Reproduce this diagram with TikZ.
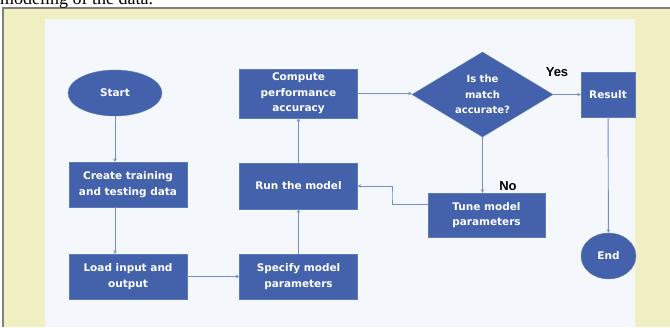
\documentclass[tikz,border=0pt]{standalone}
\usepackage{fontspec}
\setmainfont{Liberation Serif}
\newfontfamily\boxfont{DejaVu Sans}
\newfontfamily\labelfont{Liberation Sans}
\usepackage{xcolor}
\usetikzlibrary{positioning,arrows.meta,shapes.geometric}

\definecolor{boxblue}{RGB}{68,98,172}
\definecolor{linkblue}{RGB}{118,142,200}
\definecolor{panelbg}{RGB}{244,247,252}
\definecolor{framebg}{RGB}{239,239,194}

\begin{document}
\begin{tikzpicture}[
  x=1pt, y=-1pt,
  >={Stealth[length=3.5pt,width=3.5pt]},
  box/.style={draw=boxblue!85, fill=boxblue, text=white, align=center, inner sep=1pt,
    font=\boxfont\bfseries\fontsize{10.5}{15.5}\selectfont},
  proc/.style={box, minimum width=118pt, minimum height=45pt},
  term/.style={box, ellipse, inner sep=0pt},
  decide/.style={box, diamond, aspect=1.66, inner sep=0pt, minimum width=141pt, minimum height=85pt,
    font=\boxfont\bfseries\fontsize{10}{15.5}\selectfont},
  answer/.style={text=black, inner sep=0pt, font=\labelfont\bfseries\fontsize{13}{15}\selectfont},
  link/.style={->, draw=linkblue, line width=0.9pt}
]
\useasboundingbox (0,0) rectangle (670,327);
% page frame and panel
\fill[framebg] (3,8) rectangle (670,327);
\draw[gray, line width=1.5pt] (3,327) -- (3,8) -- (670,8);
\fill[panelbg] (45,19) rectangle (635,327);
\node[anchor=base west, inner sep=0pt, font=\fontsize{18}{20}\selectfont] (caption) at (0,4.5) {modeling of the data.};
% left column
\node[term, minimum width=94pt, minimum height=46pt] (start) at (115,93) {Start};
\node[proc] (create) at (128,184.5) {Create training\\and testing data};
\node[proc] (load)   at (128,276.5) {Load input and\\output};
% middle column
\node[proc] (specify) at (298.5,276.5) {Specify model\\parameters};
\node[proc, minimum height=46pt] (run) at (298.5,186) {Run the model};
\node[proc, minimum height=49pt] (compute) at (298.5,93.5) {Compute\\performance\\accuracy};
% decision and right side
\node[decide] (match) at (482.5,94.5) {Is the\\match\\accurate?};
\node[proc, minimum width=54pt] (result) at (608,94.5) {Result};
\node[proc, minimum width=117pt, minimum height=44pt] (tune) at (486.5,215) {Tune model\\parameters};
\node[term, minimum width=55pt, minimum height=46pt] (finish) at (608.5,256) {End};
\node[answer] (yes) at (557,72)  {Yes};
\node[answer] (no)  at (508,186) {No};
\coordinate (bend) at (392,196);
% arrows
\draw[link] (start) -- (start |- create.north);
\draw[link] (start |- create.south) -- (start |- load.north);
\draw[link] (load) -- (specify);
\draw[link] (specify) -- (run);
\draw[link] (run) -- (compute);
\draw[link] (compute.east) -- (compute.east -| match.west);
\draw[link] (match.east) -- (match.east -| result.west);
\draw[link] (match.south) -- (match.south |- tune.north);
\draw[link] (result) -- (finish);
\draw[link] (tune.170) -| (bend) |- (run.east);
\end{tikzpicture}
\end{document}
